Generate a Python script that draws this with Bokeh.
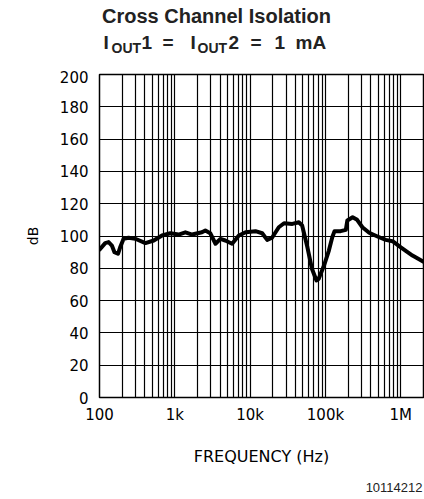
from bokeh.plotting import figure
from bokeh.models import FixedTicker, Range1d
from bokeh.layouts import column
from bokeh.core.properties import value
from bokeh.embed import file_html
from bokeh.resources import INLINE

# ---- data ----
freq_hz = [100, 119, 132, 146, 158, 176, 188, 209, 243, 299, 407, 525, 676, 871,
           1122, 1380, 1698, 2291, 2541, 2951, 3467, 4027, 4677, 5754, 7079, 8710,
           11750, 14450, 16830, 19500, 23990, 28180, 36310, 44260, 48980, 57540,
           66070, 75860, 81280, 95500, 110900, 123000, 131800, 158500, 186200,
           195000, 229100, 263000, 309000, 380200, 489800, 631000, 776200,
           1000000, 1429000, 2000000]
isolation_db = [91.5, 95.6, 96.2, 94.1, 90.0, 89.0, 93.0, 98.3, 98.9, 98.3, 95.6,
                97.2, 100.3, 101.7, 100.9, 102.3, 100.9, 102.3, 103.4, 101.7, 95.2,
                98.2, 97.2, 95.2, 100.3, 102.3, 103.0, 101.7, 97.6, 98.9, 105.4,
                107.9, 107.5, 108.5, 106.5, 93.0, 79.7, 72.5, 73.5, 81.7, 91.0,
                99.2, 103.0, 103.0, 103.8, 109.6, 111.6, 110.0, 105.4, 102.0, 99.7,
                97.6, 96.8, 93.0, 87.9, 84.0]

x_major_ticks = [100, 1000, 10000, 100000, 1000000]
x_tick_labels = ["100", "1k", "10k", "100k", "1M"]
x_minor_ticks = [m * d for d in [100, 1000, 10000, 100000, 1000000] for m in range(2, 10)
                 if m * d <= 2000000]
y_ticks = [0, 20, 40, 60, 80, 100, 120, 140, 160, 180, 200]
x_limits = [100, 2000000]
y_limits = [0, 200]

title_line1 = "Cross Channel Isolation"
figure_code = "10114212"

HEAD_H = 70
FOOT_H = 19
FL, FW, FH = 99, 324, 323
MAIN_TOP = 4
MAIN_BOTTOM = 81


def strip(height):
    # a text strip whose frame has the same horizontal placement as the chart's frame;
    # its data coordinates equal page pixels
    f = figure(frame_width=FW, frame_height=height,
               min_border_left=FL, min_border_right=1, min_border_top=0, min_border_bottom=0,
               x_range=Range1d(FL, FL + FW), y_range=Range1d(height, 0),
               x_axis_location=None, y_axis_location=None, output_backend="svg",
               toolbar_location=None, outline_line_color=None,
               background_fill_color="white", border_fill_color="white")
    f.grid.visible = False
    return f


def txt(f, xs, ys, texts, size, style="bold", align="left", font="Liberation Sans"):
    f.text(x=xs, y=ys, text=texts, text_font=value(font), text_font_size=size,
           text_font_style=style, text_align=align, text_baseline="alphabetic",
           text_color="#222222")


# ---- heading ----
head = strip(HEAD_H)
txt(head, [216], [15.2], [title_line1], "20px", align="center")
txt(head, [103, 141, 162, 190, 228, 250, 274, 295], [41.5] * 8,
    ["I", "1", "=", "I", "2", "=", "1", "mA"], "19px")
txt(head, [111, 197], [47.5, 47.5], ["OUT", "OUT"], "14px")

# ---- main chart ----
p = figure(x_axis_type="log", output_backend="svg", toolbar_location=None,
           frame_width=FW, frame_height=FH,
           min_border_left=FL, min_border_right=1, min_border_top=MAIN_TOP,
           min_border_bottom=MAIN_BOTTOM,
           x_range=Range1d(*x_limits), y_range=Range1d(*y_limits),
           background_fill_color="white", border_fill_color="white")

p.line(freq_hz, isolation_db, line_color="black", line_width=4, line_join="round", line_cap="round")

p.outline_line_color = "black"
p.outline_line_width = 1.5

p.xaxis.ticker = FixedTicker(ticks=x_major_ticks, minor_ticks=x_minor_ticks)
p.xaxis.major_label_overrides = {t: l for t, l in zip(x_major_ticks, x_tick_labels)}
p.yaxis.ticker = FixedTicker(ticks=y_ticks)

for ax in (p.xaxis[0], p.yaxis[0]):
    ax.axis_line_color = None
    ax.major_tick_line_color = None
    ax.minor_tick_line_color = None
    ax.major_label_text_font = "DejaVu Sans"
    ax.major_label_text_font_size = "15px"
    ax.major_label_text_color = "black"
    ax.axis_label_text_font = "DejaVu Sans"
    ax.axis_label_text_font_style = "normal"
    ax.axis_label_text_color = "black"

p.xaxis.major_label_standoff = 2
p.yaxis.major_label_standoff = 5
p.xaxis.axis_label = "FREQUENCY (Hz)"
p.xaxis.axis_label_text_font_size = "16px"
p.xaxis.axis_label_standoff = 20
p.yaxis.axis_label = "dB"
p.yaxis.axis_label_text_font_size = "14px"
p.yaxis.axis_label_standoff = 16

p.xgrid.grid_line_color = "black"
p.xgrid.grid_line_width = 1.2
p.xgrid.minor_grid_line_color = "black"
p.xgrid.minor_grid_line_width = 1.2
p.ygrid.grid_line_color = "black"
p.ygrid.grid_line_width = 1.2

# ---- footer with the figure code ----
foot = strip(FOOT_H)
txt(foot, [422], [8.5], [figure_code], "13px", style="normal", align="right")

layout = column(head, p, foot, spacing=0)
open("out.html", "w").write(file_html(layout, INLINE))
